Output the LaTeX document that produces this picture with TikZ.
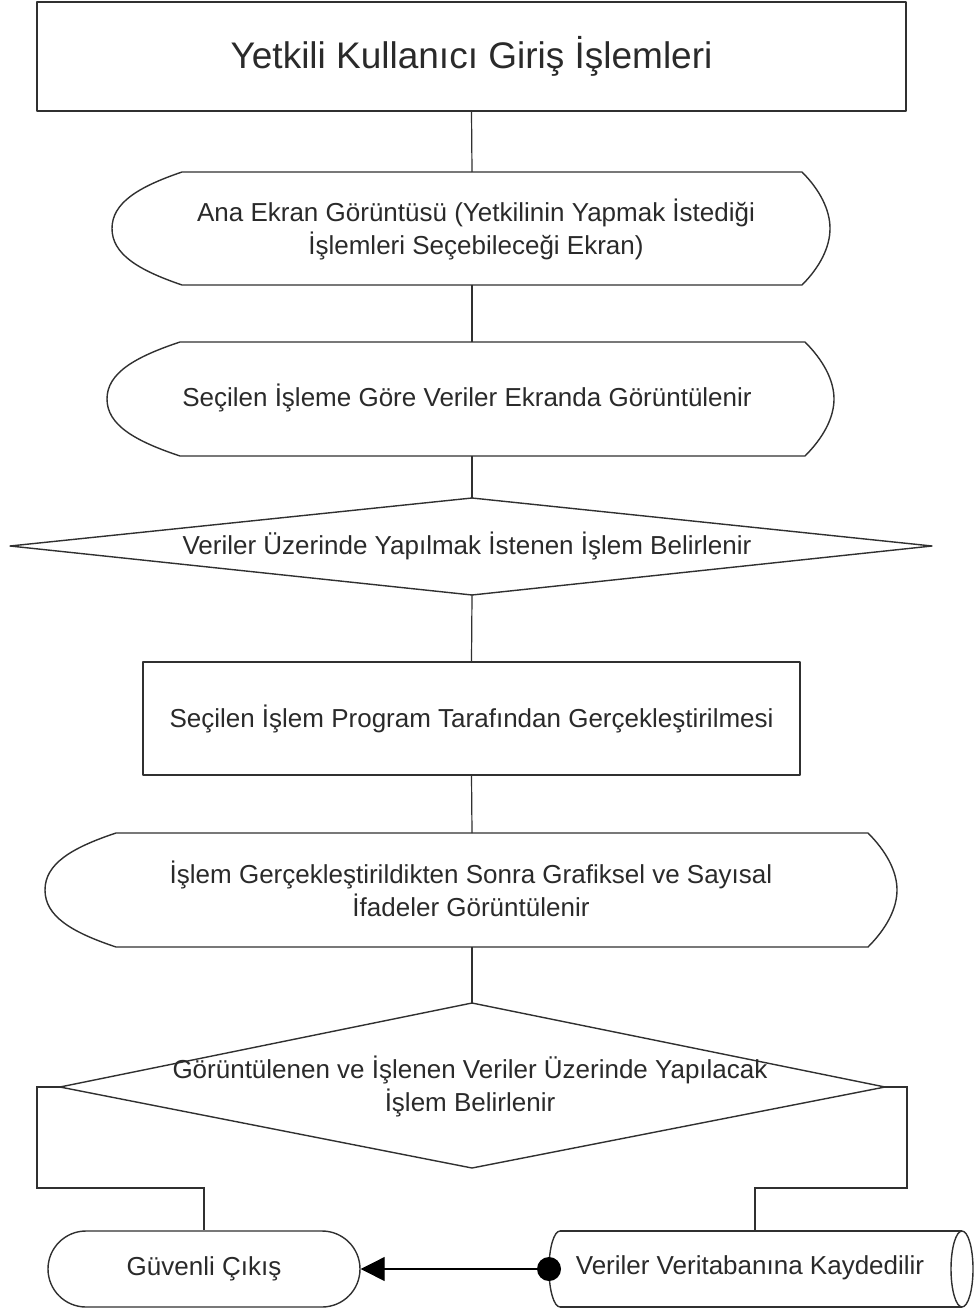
\documentclass[tikz,border=0pt]{standalone}
\usepackage{fontspec}
\setmainfont{Liberation Sans}
\usetikzlibrary{arrows.meta}
\definecolor{ln}{HTML}{303030}
\definecolor{tx}{HTML}{2A2A2A}
\begin{document}
\begin{tikzpicture}[x=1pt,y=-1pt,
  shapeline/.style={draw=ln, line width=1.4pt, line join=round},
  conn/.style={draw=ln, line width=1.2pt},
  lbl/.style={text=tx, font=\fontsize{26}{33}\selectfont, align=center, inner sep=0pt},
  boxnode/.style={shapeline, rectangle, inner sep=0pt, text=tx, font=\fontsize{26}{33}\selectfont, align=center},
  titlenode/.style={boxnode, font=\fontsize{37}{44}\selectfont},
  stadium/.style={boxnode, rounded corners=38pt}]
\useasboundingbox (0,0) rectangle (977,1313);
\fill[white] (0,0) rectangle (977,1313);

% title box
\node[titlenode, minimum width=869pt, minimum height=109pt] (title) at (471.5,56.5) {Yetkili Kullanıcı Giriş İşlemleri};

% display 1
\draw[shapeline] (182,172) -- (802,172) .. controls (820,190) and (830,210) .. (830,228.5)
  .. controls (830,247) and (820,267) .. (802,285) -- (182,285)
  .. controls (138,270) and (112,254) .. (112,228.5)
  .. controls (112,203) and (138,187) .. (182,172) -- cycle;
\coordinate (d1t) at (472,172);
\coordinate (d1b) at (472,285);
\node[lbl] (d1) at (476,229) {Ana Ekran Görüntüsü (Yetkilinin Yapmak İstediği\\İşlemleri Seçebileceği Ekran)};

% display 2
\draw[shapeline] (180,342) -- (805,342) .. controls (823,360) and (834,380) .. (834,399)
  .. controls (834,418) and (823,438) .. (805,456) -- (180,456)
  .. controls (135,441) and (107,425) .. (107,399)
  .. controls (107,373) and (135,357) .. (180,342) -- cycle;
\coordinate (d2t) at (472,342);
\coordinate (d2b) at (472,456);
\node[lbl] (d2) at (467,398) {Seçilen İşleme Göre Veriler Ekranda Görüntülenir};

% decision 1
\coordinate (q1t) at (472,498);
\coordinate (q1b) at (472,595);
\coordinate (q1l) at (10,546);
\coordinate (q1r) at (932,546);
\draw[shapeline] (q1t) -- (q1r) -- (q1b) -- (q1l) -- cycle;
\node[lbl] (q1) at (467,546) {Veriler Üzerinde Yapılmak İstenen İşlem Belirlenir};

% process box
\node[boxnode, minimum width=657pt, minimum height=113pt] (p1) at (471.5,718.5) {Seçilen İşlem Program Tarafından Gerçekleştirilmesi};

% display 3
\draw[shapeline] (116,833) -- (868,833) .. controls (886,851) and (897,871) .. (897,890)
  .. controls (897,909) and (886,929) .. (868,947) -- (116,947)
  .. controls (71,932) and (45,916) .. (45,890)
  .. controls (45,864) and (71,848) .. (116,833) -- cycle;
\coordinate (d3t) at (472,833);
\coordinate (d3b) at (472,947);
\node[lbl] (d3) at (471,889) {İşlem Gerçekleştirildikten Sonra Grafiksel ve Sayısal\\İfadeler Görüntülenir};

% decision 2
\coordinate (q2t) at (472,1003);
\coordinate (q2b) at (472,1168);
\coordinate (q2l) at (60,1087);
\coordinate (q2r) at (885,1087);
\draw[shapeline] (q2t) -- (q2r) -- (q2b) -- (q2l) -- cycle;
\node[lbl] (q2) at (470,1086) {Görüntülenen ve İşlenen Veriler Üzerinde Yapılacak\\İşlem Belirlenir};

% exit
\node[stadium, minimum width=312pt, minimum height=76pt] (exit) at (204,1269) {Güvenli Çıkış};

% database (horizontal cylinder)
\draw[shapeline] (560,1231) -- (962,1231);
\draw[shapeline] (560,1307) -- (962,1307);
\draw[shapeline] (560,1231) arc[start angle=90, end angle=270, x radius=11pt, y radius=38pt];
\draw[shapeline] (962,1269) ellipse[x radius=11pt, y radius=38pt];
\coordinate (dbt) at (755,1231);
\coordinate (dbl) at (549,1269);
\node[lbl] (db) at (750,1268) {Veriler Veritabanına Kaydedilir};

% connectors
\draw[conn] (title.south) -- (d1t);
\draw[conn] (d1b) -- (d2t);
\draw[conn] (d2b) -- (q1t);
\draw[conn] (q1b) -- (p1.north);
\draw[conn] (p1.south) -- (d3t);
\draw[conn] (d3b) -- (q2t);
\coordinate (lc1) at (37,1087);
\coordinate (lc2) at (37,1188);
\coordinate (lc3) at (204,1188);
\draw[conn] (q2l) -- (lc1) -- (lc2) -- (lc3) -- (exit.north);
\coordinate (rc1) at (907,1087);
\coordinate (rc2) at (907,1188);
\coordinate (rc3) at (755,1188);
\draw[conn] (q2r) -- (rc1) -- (rc2) -- (rc3) -- (dbt);
\draw[conn, draw=black, -{Triangle[length=24pt,width=24pt,fill=black]}] (dbl) -- (exit.east);
\fill[black] (dbl) circle[radius=12pt];
\end{tikzpicture}
\end{document}
